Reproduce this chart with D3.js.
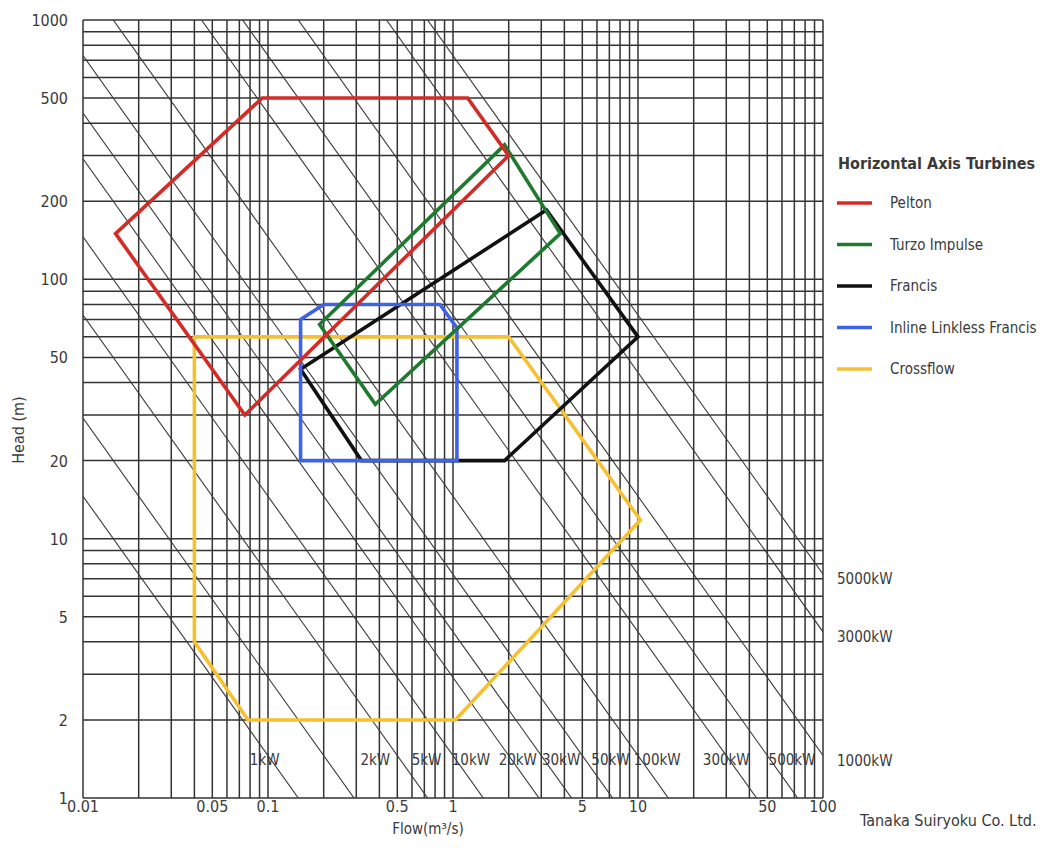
<!DOCTYPE html>
<html>
<head>
<meta charset="utf-8">
<script src="https://cdn.jsdelivr.net/npm/d3@7"></script>
<style>
  html, body { margin: 0; padding: 0; background: #fff; }
  svg { display: block; }
  text { font-family: "Liberation Sans Narrow", "DejaVu Sans Condensed", "Liberation Sans", sans-serif; fill: #3a3a3a; }
</style>
</head>
<body>
<svg id="chart" width="1048" height="866"></svg>
<script>
// ---------------- data ----------------
const xTickValues = [0.01, 0.05, 0.1, 0.5, 1, 5, 10, 50, 100];
const xTickLabels = ["0.01", "0.05", "0.1", "0.5", "1", "5", "10", "50", "100"];
const yTickValues = [1, 2, 5, 10, 20, 50, 100, 200, 500, 1000];
const yTickLabels = ["1", "2", "5", "10", "20", "50", "100", "200", "500", "1000"];

// power lines (kW), P = 9.8 * Q * H * efficiency
const powerKW     = [1, 2, 5, 10, 20, 30, 50, 100, 300, 500, 1000, 3000, 5000];
const powerLabels = ["1kW", "2kW", "5kW", "10kW", "20kW", "30kW", "50kW", "100kW", "300kW", "500kW", "1000kW", "3000kW", "5000kW"];
const efficiency = 0.7;
// flow (m3/s) at which each bottom-row power label sits, head of label row
const powerLabelFlow = [0.096, 0.38, 0.72, 1.25, 2.24, 3.84, 7.1, 12.7, 30, 68];
const powerLabelHead = 1.4;

// turbine application ranges: [flow m3/s, head m]
const pelton    = [[0.015, 150], [0.093, 500], [1.2, 500], [2.0, 300], [0.075, 30]];
const turgo     = [[0.19, 67], [1.9, 330], [3.8, 150], [0.38, 33]];
const francis   = [[0.15, 45], [3.2, 185], [10, 60], [1.9, 20], [0.32, 20]];
const inline    = [[0.15, 20], [0.15, 70], [0.2, 80], [0.85, 80], [1.05, 65], [1.05, 20]];
const crossflow = [[0.04, 60], [2.0, 60], [10.3, 11.8], [1.03, 2], [0.078, 2], [0.04, 4]];

const seriesNames  = ["Pelton", "Turzo Impulse", "Francis", "Inline Linkless Francis", "Crossflow"];
const seriesData   = [pelton, turgo, francis, inline, crossflow];
const seriesColors = ["#d42b27", "#1f7a30", "#111111", "#3f63e6", "#f5c133"];
const drawOrder    = [4, 2, 3, 1, 0];

// ---------------- chart ----------------
const svg = d3.select("#chart");
const x = d3.scaleLog().domain([0.01, 100]).range([83, 823]);
const y = d3.scaleLog().domain([1, 1000]).range([798, 20]);

svg.append("defs").append("clipPath").attr("id", "plotclip")
  .append("rect").attr("x", x(0.01)).attr("y", y(1000))
  .attr("width", x(100) - x(0.01)).attr("height", y(1) - y(1000));

const grid = svg.append("g");
grid.selectAll("line.v").data(x.ticks()).join("line")
  .attr("x1", d => x(d)).attr("x2", d => x(d))
  .attr("y1", y(1000)).attr("y2", y(1))
  .attr("stroke", "#333").attr("stroke-width", 1.5);
grid.selectAll("line.h").data(y.ticks()).join("line")
  .attr("y1", d => y(d)).attr("y2", d => y(d))
  .attr("x1", x(0.01)).attr("x2", x(100))
  .attr("stroke", "#333").attr("stroke-width", 1.5);

// power diagonals
const pw = svg.append("g").attr("clip-path", "url(#plotclip)");
pw.selectAll("line").data(powerKW).join("line")
  .attr("x1", x(0.01)).attr("y1", d => y(d / (9.8 * efficiency) / 0.01))
  .attr("x2", x(100)).attr("y2", d => y(d / (9.8 * efficiency) / 100))
  .attr("stroke", "#3a3a3a").attr("stroke-width", 1.1);

// power labels
const lbl = svg.append("g").attr("font-size", 15);
powerKW.forEach((p, i) => {
  const qh = p / (9.8 * efficiency);
  if (i < powerLabelFlow.length) {
    lbl.append("text").attr("x", x(powerLabelFlow[i])).attr("y", y(powerLabelHead) + 5)
      .attr("text-anchor", "middle").text(powerLabels[i]);
  } else {
    lbl.append("text").attr("x", x(100) + 14).attr("y", y(qh / 100) + 10)
      .text(powerLabels[i]);
  }
});

// turbine polygons
const lineGen = d3.line().x(d => x(d[0])).y(d => y(d[1])).curve(d3.curveLinearClosed);
const poly = svg.append("g");
drawOrder.forEach(i => {
  poly.append("path").attr("d", lineGen(seriesData[i]))
    .attr("fill", "none").attr("stroke", seriesColors[i])
    .attr("stroke-width", 3.6).attr("stroke-linejoin", "miter");
});

// axes labels
const ax = svg.append("g").attr("font-size", 16);
ax.selectAll("text.yl").data(yTickValues).join("text")
  .attr("x", 68).attr("y", d => y(d) + 6).attr("text-anchor", "end")
  .text((d, i) => yTickLabels[i]);
ax.selectAll("text.xl").data(xTickValues).join("text")
  .attr("x", d => x(d)).attr("y", 812).attr("text-anchor", "middle")
  .text((d, i) => xTickLabels[i]);

svg.append("text").attr("transform", "translate(24,430) rotate(-90)")
  .attr("text-anchor", "middle").attr("font-size", 16).text("Head (m)");
svg.append("text").attr("x", 428).attr("y", 834).attr("text-anchor", "middle")
  .attr("font-size", 15).text("Flow(m³/s)");
svg.append("text").attr("x", 860).attr("y", 826).attr("font-size", 16)
  .text("Tanaka Suiryoku Co. Ltd.");

// legend
const lg = svg.append("g");
lg.append("text").attr("x", 838).attr("y", 169).attr("font-size", 16)
  .attr("font-weight", "bold").attr("fill", "#222").text("Horizontal Axis Turbines");
seriesNames.forEach((name, i) => {
  const yy = 203 + i * 41.5;
  lg.append("line").attr("x1", 837).attr("x2", 872).attr("y1", yy).attr("y2", yy)
    .attr("stroke", seriesColors[i]).attr("stroke-width", 3.6);
  lg.append("text").attr("x", 890).attr("y", yy + 5).attr("font-size", 15).text(name);
});
</script>
</body>
</html>
